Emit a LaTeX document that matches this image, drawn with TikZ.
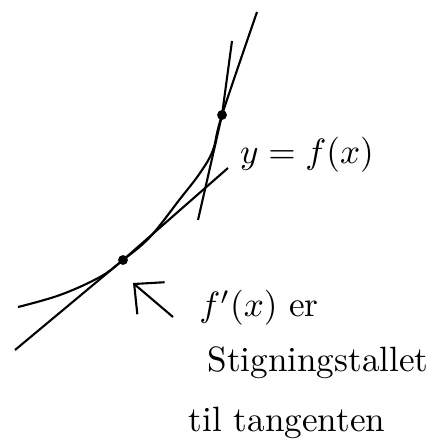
\documentclass[tikz,border=0pt]{standalone}
\usepackage{tikz}
\usetikzlibrary{arrows.meta, positioning}

\begin{document}
\begin{tikzpicture}[x=0.01cm, y=0.01cm, line width=0.6pt, on grid,
        dot/.style={circle, fill, inner sep=0pt, minimum size=2.8pt}]
        \useasboundingbox (0,0) rectangle (432,445);

        \node[dot] (p) at (123,185) {};
        \node[dot] (q) at (222,330) {};
        \coordinate (c0) at (18,138);
        \coordinate (c1) at (257,433);

        % tangent ends
        \coordinate (ta) at (15,95);
        \coordinate (tb) at (228,277);
        \coordinate (sa) at (198,225);
        \coordinate (sb) at (232,404);

        \draw plot[smooth, tension=0.6] coordinates {(c0) (60,150) (100,168) (p.center)
            (150,208) (180,246) (200,272) (213,295) (q.center) (c1)};
        \draw (ta) -- (p.center) -- (tb);
        \draw (sa) -- (q.center) -- (sb);

        \node (eq) at (307,290) {$y=f(x)$};
        \node (l1) at (259,137) {$f'(x)$ er};
        \node (l2) [below right=0.55cm and 0.59cm of l1] {Stigningstallet};
        \node (l3) [below left=0.6cm and 0.31cm of l2] {til tangenten};

        \coordinate (at) at (173,128);
        \coordinate (ah) at (133,162);
        \draw[-{Straight Barb[length=2.2mm, width=4.2mm]}] (at) -- (ah);
    \end{tikzpicture}
\end{document}
